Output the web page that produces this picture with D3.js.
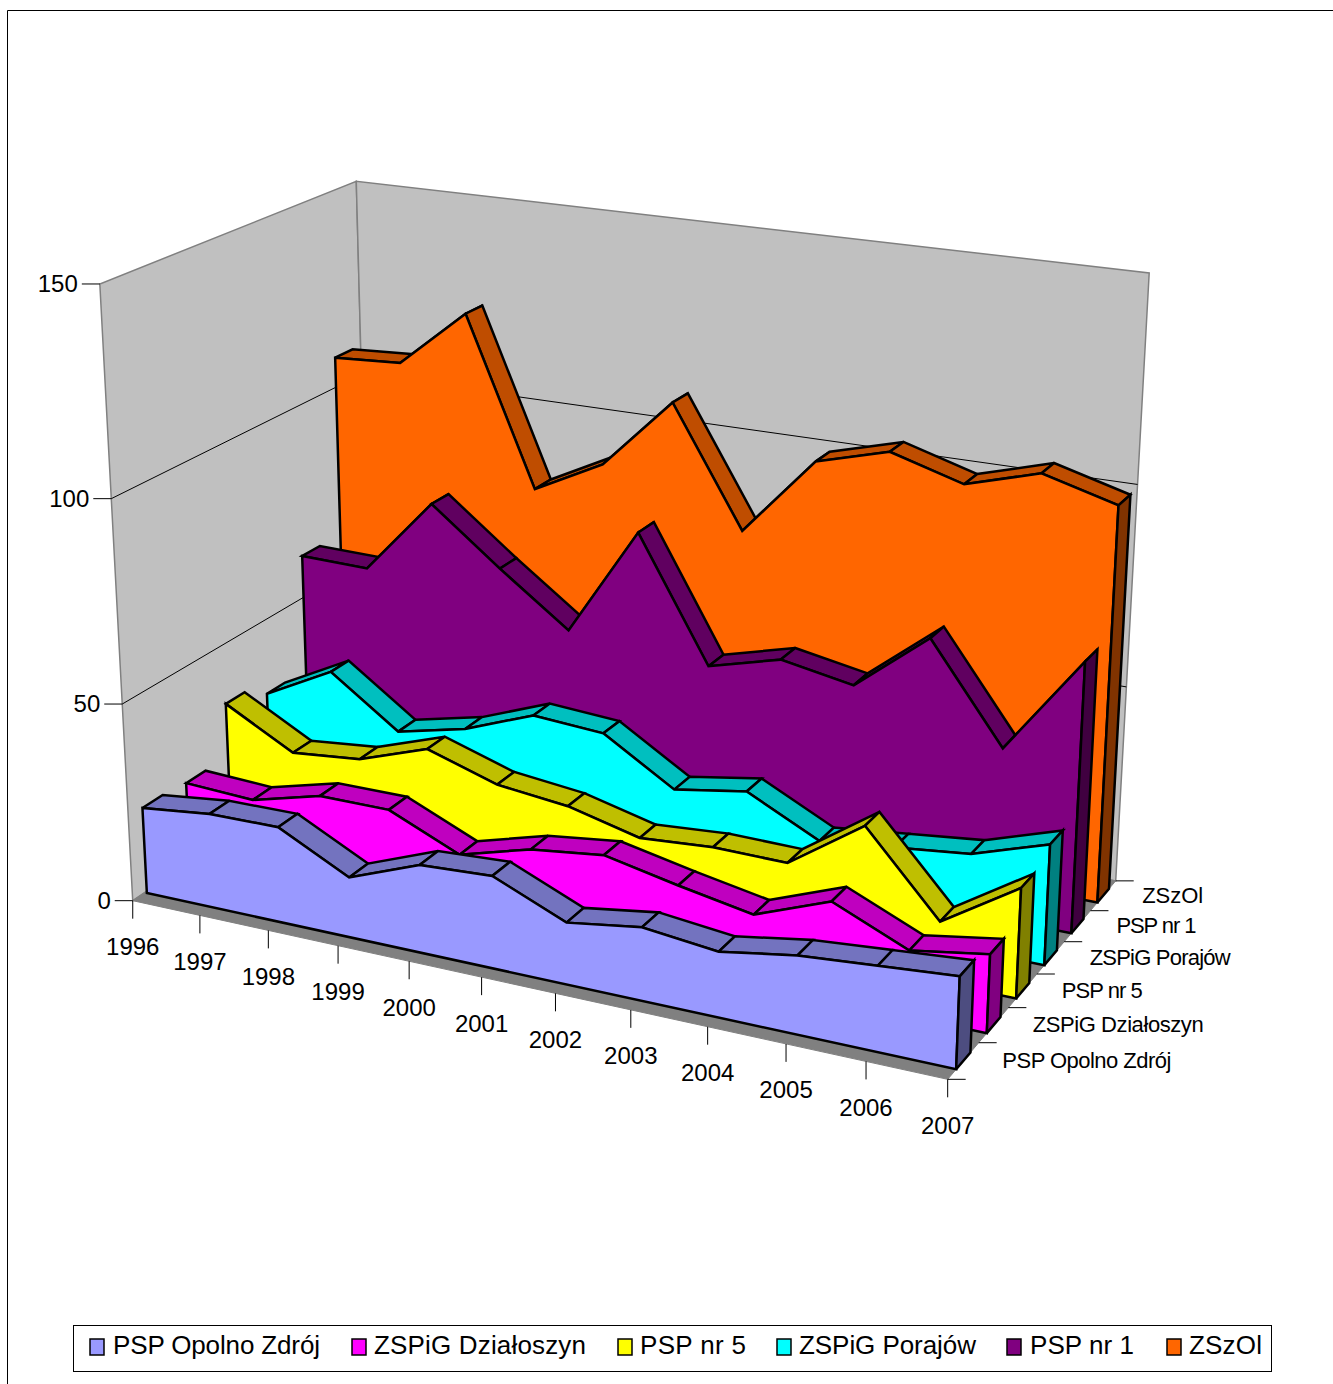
<!DOCTYPE html>
<html>
<head>
<meta charset="utf-8">
<script src="https://cdnjs.cloudflare.com/ajax/libs/d3/7.8.5/d3.min.js"></script>
<style>
  html, body { margin: 0; padding: 0; background: #fff; overflow: hidden; }
  text { font-family: "Liberation Sans", Arial, sans-serif; fill: #000; }
</style>
</head>
<body>
<div id="chart"></div>
<script>
// Chart values
const years = ['1996', '1997', '1998', '1999', '2000', '2001', '2002', '2003', '2004', '2005', '2006', '2007'];
const seriesNames = ['PSP Opolno Zdrój', 'ZSPiG Działoszyn', 'PSP nr 5', 'ZSPiG Porajów', 'PSP nr 1', 'ZSzOl'];
const pspOpolno = [22, 24, 24.2, 15.2, 22, 23, 15.3, 18, 16, 19, 20.5, 22];
const zspigDzialoszyn = [21.2, 20.3, 24.8, 24.8, 17, 22, 24.2, 20.4, 17, 24, 16, 19];
const pspNr5 = [35, 25.5, 27.2, 33.2, 27.5, 25.5, 21, 22.3, 22, 34.8, 15, 27];
const zspigPorajow = [31, 40, 27.5, 31.5, 38.3, 37, 26, 29, 20, 22, 24, 30];
const pspNr1 = [61.4, 61, 80.5, 66.7, 53.7, 81.5, 50.7, 55.5, 52.2, 67, 43, 67.5];
const zszol = [108, 109, 123.8, 81.5, 90.5, 108.6, 79, 99, 104, 98.7, 104, 99];
const seriesValues = [pspOpolno, zspigDzialoszyn, pspNr5, zspigPorajow, pspNr1, zszol];
const seriesColors = ['#9999ff', '#ff00ff', '#ffff00', '#00ffff', '#800080', '#ff6600'];
const valueTicks = [0, 50, 100, 150];

const svg = d3.select('#chart').append('svg')
    .attr('width', 1333)
    .attr('height', 1384);

// Scales into the unit box of the 3D plot
const xScale = d3.scalePoint().domain(years).range([0, 1]);
const xSlab = d3.scalePoint().domain(years).range([0.003, 1]);  // slabs start just inside the wall
const yScale = d3.scaleLinear().domain([0, 150]).range([0, 1]);
const zScale = d3.scaleBand().domain(seriesNames).range([0, 1]).paddingInner(0.54).paddingOuter(0.27);

// Camera: fitted to where the plot box sits on the page
// [x, y, z, pageX, pageY]
const cameraPins = [
    [0, 0, 0, 133, 900], [1, 0, 0, 948, 1079], [1, 0, 1, 1115, 881],
    [0, 1, 0, 100, 285], [0, 1, 1, 357, 181], [1, 1, 1, 1149, 272],
    [0, 2 / 3, 0, 111, 498], [0, 1 / 3, 0, 121, 705],
    [1, 2 / 3, 1, 1137, 485], [1, 1 / 3, 1, 1127, 687],
    [1, 0, 0.5, 1037, 975], [5 / 11, 0, 0, 482, 977], [8 / 11, 0, 0, 708, 1026]
];

function fitCamera(pins) {
    const rows = [];
    const rhs = [];
    pins.forEach(([x, y, z, u, v]) => {
        u /= 1000; v /= 1000;
        rows.push([x, y, z, 1, 0, 0, 0, 0, -u * x, -u * y, -u * z]); rhs.push(u);
        rows.push([0, 0, 0, 0, x, y, z, 1, -v * x, -v * y, -v * z]); rhs.push(v);
    });
    // normal equations
    const n = 11;
    const a = d3.range(n).map(i => d3.range(n + 1).map(j =>
        d3.sum(rows, (r, k) => r[i] * (j < n ? r[j] : rhs[k]))));
    for (let c = 0; c < n; c++) {
        let best = c;
        for (let r = c + 1; r < n; r++) if (Math.abs(a[r][c]) > Math.abs(a[best][c])) best = r;
        [a[c], a[best]] = [a[best], a[c]];
        for (let r = 0; r < n; r++) {
            if (r === c) continue;
            const f = a[r][c] / a[c][c];
            for (let j = c; j <= n; j++) a[r][j] -= f * a[c][j];
        }
    }
    return a.map((row, i) => row[n] / row[i]);
}

const cam = fitCamera(cameraPins);

function project(x, y, z) {
    const w = cam[8] * x + cam[9] * y + cam[10] * z + 1;
    return [
        1000 * (cam[0] * x + cam[1] * y + cam[2] * z + cam[3]) / w,
        1000 * (cam[4] * x + cam[5] * y + cam[6] * z + cam[7]) / w
    ];
}

const line = d3.line();
function face(points, fill, stroke, width) {
    return svg.append('path')
        .attr('d', line(points) + 'Z')
        .attr('fill', fill)
        .attr('stroke', stroke)
        .attr('stroke-width', width)
        .attr('stroke-linejoin', 'miter')
        .attr('stroke-miterlimit', 3);
}
function segment(a, b, color, width) {
    svg.append('line')
        .attr('x1', a[0]).attr('y1', a[1])
        .attr('x2', b[0]).attr('y2', b[1])
        .attr('stroke', color)
        .attr('stroke-width', width);
}
function shade(color, k) {
    const c = d3.rgb(color);
    return d3.rgb(c.r * k, c.g * k, c.b * k).formatHex();
}

// Page frame
svg.append('path')
    .attr('d', 'M7.5,1384V10.5H1333')
    .attr('fill', 'none')
    .attr('stroke', '#000')
    .attr('stroke-width', 1);

// Walls and floor
const wallGrey = '#c0c0c0';
face([project(0, 0, 0), project(0, 1, 0), project(0, 1, 1), project(0, 0, 1)], wallGrey, '#808080', 1.5);
face([project(0, 0, 1), project(0, 1, 1), project(1, 1, 1), project(1, 0, 1)], wallGrey, '#808080', 1.5);
face([project(0, 0, 0), project(1, 0, 0), project(1, 0, 1), project(0, 0, 1)], '#808080', '#808080', 1);

// Gridlines along both walls
valueTicks.slice(1, -1).forEach(v => {
    const y = yScale(v);
    segment(project(0, y, 0), project(0, y, 1), '#000', 1);
    segment(project(0, y, 1), project(1, y, 1), '#000', 1);
});

// Series slabs, back to front
const slabStroke = 2.5;
d3.range(seriesNames.length - 1, -1, -1).forEach(i => {
    const zFront = zScale(seriesNames[i]);
    const zBack = zFront + zScale.bandwidth();
    const values = seriesValues[i];
    const color = seriesColors[i];

    // top of the ribbon, one quad per year step
    for (let k = 0; k < years.length - 1; k++) {
        const x0 = xSlab(years[k]);
        const x1 = xSlab(years[k + 1]);
        const y0 = yScale(values[k]);
        const y1 = yScale(values[k + 1]);
        face([project(x0, y0, zFront), project(x1, y1, zFront), project(x1, y1, zBack), project(x0, y0, zBack)],
            shade(color, 0.75), '#000', slabStroke);
    }

    // front face
    const front = years.map((year, k) => project(xSlab(year), yScale(values[k]), zFront));
    front.push(project(1, 0, zFront), project(xSlab(years[0]), 0, zFront));
    face(front, color, '#000', slabStroke);

    // right end
    const yEnd = yScale(values[values.length - 1]);
    face([project(1, 0, zFront), project(1, yEnd, zFront), project(1, yEnd, zBack), project(1, 0, zBack)],
        shade(color, 0.5), '#000', slabStroke);
});

// Value axis
valueTicks.forEach(v => {
    const p = project(0, yScale(v), 0);
    segment([p[0] - 18, p[1]], p, '#000', 1);
    svg.append('text')
        .attr('x', p[0] - 22)
        .attr('y', p[1] + 8)
        .attr('text-anchor', 'end')
        .attr('font-size', 24)
        .text(v);
});

// Year axis
years.forEach(year => {
    const p = project(xScale(year), 0, 0);
    segment(p, [p[0], p[1] + 18], '#000', 1);
    svg.append('text')
        .attr('x', p[0])
        .attr('y', p[1] + 54.5)
        .attr('text-anchor', 'middle')
        .attr('font-size', 24)
        .text(year);
});

// Series axis, the labels squeezed to the widths in the original
const bandStep = zScale.step();
const seriesLabelWidths = [169, 171, 81, 141, 80, 61];
d3.range(seriesNames.length + 1).forEach(i => {
    const p = project(1, 0, i * bandStep);
    segment(p, [p[0] + 18, p[1]], '#000', 1);
});
seriesNames.forEach((name, i) => {
    const p = project(1, 0, (i + 0.5) * bandStep);
    svg.append('text')
        .attr('x', p[0] + 39)
        .attr('y', p[1] + 7)
        .attr('font-size', 22)
        .attr('textLength', seriesLabelWidths[i])
        .attr('lengthAdjust', 'spacing')
        .text(name);
});

// Legend
svg.append('rect')
    .attr('x', 73.5).attr('y', 1325.5)
    .attr('width', 1198).attr('height', 46)
    .attr('fill', '#fff')
    .attr('stroke', '#000')
    .attr('stroke-width', 1);
const legendStarts = [90, 352, 618, 777, 1007, 1167];
const legendTextStarts = [113, 374, 640, 799, 1030, 1189];
const legendTextWidths = [207, 212, 106, 177, 104, 73];
seriesNames.forEach((name, i) => {
    svg.append('rect')
        .attr('x', legendStarts[i]).attr('y', 1339)
        .attr('width', 14).attr('height', 16)
        .attr('fill', seriesColors[i])
        .attr('stroke', '#000')
        .attr('stroke-width', 1.5);
    svg.append('text')
        .attr('x', legendTextStarts[i])
        .attr('y', 1354)
        .attr('font-size', 26)
        .attr('textLength', legendTextWidths[i])
        .attr('lengthAdjust', 'spacing')
        .text(name);
});
</script>
</body>
</html>
